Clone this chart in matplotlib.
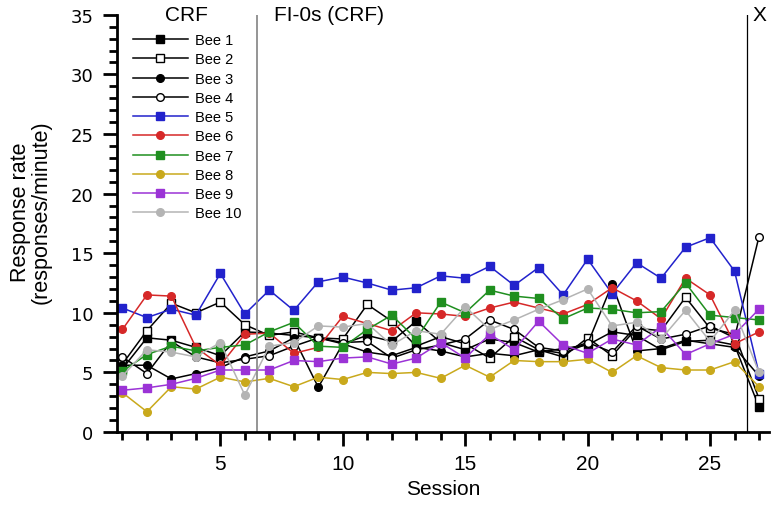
import matplotlib
matplotlib.use('Agg')
import matplotlib.pyplot as plt
from matplotlib.ticker import MultipleLocator

plt.rcParams['font.family'] = ['Liberation Sans', 'DejaVu Sans']

# sessions 1..27
sessions = list(range(1, 28))

bee1 = [5.3, 7.9, 7.7, 7.1, 6.4, 8.4, 8.3, 8.1, 7.9, 7.4, 8.1, 7.6, 9.3, 7.5, 6.9,
        7.8, 7.5, 6.7, 7.0, 7.3, 8.4, 8.1, 6.9, 7.6, 7.7, 7.3, 2.1]
bee2 = [5.7, 8.5, 10.8, 10.0, 10.9, 9.0, 8.1, 8.4, 7.9, 7.8, 10.7, 9.3, 7.2, 8.0, 7.4,
        6.2, 8.0, 6.9, 6.3, 7.9, 6.4, 8.7, 8.5, 11.3, 8.7, 8.2, 2.8]
bee3 = [5.6, 5.6, 4.45, 4.9, 5.4, 6.3, 6.8, 7.9, 3.75, 7.4, 6.7, 6.4, 7.1, 6.8, 6.3,
        6.6, 6.4, 6.9, 6.6, 7.4, 12.4, 6.8, 7.0, 7.7, 7.4, 7.1, 4.7]
bee4 = [6.3, 4.9, 7.6, 6.3, 5.8, 6.1, 6.4, 7.2, 7.9, 7.5, 7.6, 6.2, 6.9, 7.3, 7.8,
        9.4, 8.6, 7.1, 6.8, 7.5, 6.7, 8.9, 7.8, 8.2, 8.9, 7.9, 16.4]
bee5 = [10.4, 9.6, 10.3, 9.8, 13.3, 9.9, 11.9, 10.2, 12.6, 13.0, 12.5, 11.9, 12.1, 13.1, 12.9,
        13.9, 12.3, 13.8, 11.5, 14.5, 11.6, 14.2, 12.9, 15.5, 16.3, 13.5, 4.9]
bee6 = [8.6, 11.5, 11.4, 7.1, 5.6, 8.2, 8.3, 6.6, 7.1, 9.7, 9.1, 8.5, 10.0, 9.9, 9.7,
        10.4, 10.9, 10.4, 9.9, 10.7, 12.1, 11.0, 9.5, 12.9, 11.5, 7.4, 8.4]
bee7 = [5.1, 6.5, 7.2, 6.8, 7.1, 7.3, 8.4, 9.2, 7.2, 7.1, 8.6, 9.8, 7.8, 10.9, 10.0,
        11.9, 11.4, 11.2, 9.5, 10.4, 10.3, 10.0, 10.1, 12.5, 9.8, 9.6, 9.4]
bee8 = [3.3, 1.7, 3.8, 3.6, 4.6, 4.2, 4.5, 3.8, 4.6, 4.4, 5.0, 4.9, 5.0, 4.5, 5.6,
        4.6, 6.0, 5.9, 5.9, 6.1, 5.0, 6.4, 5.4, 5.2, 5.2, 5.9, 3.8]
bee9 = [3.5, 3.7, 4.0, 4.5, 5.2, 5.2, 5.2, 6.0, 5.9, 6.2, 6.3, 5.7, 6.2, 7.5, 6.2,
        8.2, 6.9, 9.3, 7.3, 6.6, 7.8, 7.3, 8.8, 6.5, 7.4, 8.2, 10.3]
bee10 = [4.7, 6.9, 6.7, 6.3, 7.5, 3.1, 7.2, 7.5, 8.9, 8.8, 9.1, 7.3, 8.5, 8.2, 10.5,
         8.6, 9.4, 10.3, 11.1, 12.0, 8.9, 9.2, 7.8, 10.2, 7.6, 10.2, 5.0]

series = [bee1, bee2, bee3, bee4, bee5, bee6, bee7, bee8, bee9, bee10]
labels = ['Bee 1', 'Bee 2', 'Bee 3', 'Bee 4', 'Bee 5', 'Bee 6', 'Bee 7', 'Bee 8', 'Bee 9', 'Bee 10']
colors = ['black', 'black', 'black', 'black', '#2222cc', '#d62828', '#1f8f1f', '#c9a91c', '#9b33d6', '#b4b4b4']
markers = ['s', 's', 'o', 'o', 's', 'o', 's', 'o', 's', 'o']
facecolors = ['black', 'white', 'black', 'white', '#2222cc', '#d62828', '#1f8f1f', '#c9a91c', '#9b33d6', '#b4b4b4']

phase_bounds = [6.5, 26.5]

fig = plt.figure(figsize=(7.75, 5.1), dpi=100)
ax = fig.add_axes([0.151, 0.151, 0.841, 0.818])

for y, lab, c, m, fc in zip(series, labels, colors, markers, facecolors):
    ax.plot(sessions, y, color=c, marker=m, markerfacecolor=fc, markeredgecolor=c,
            markersize=5.5, markeredgewidth=1.0, linewidth=1.1, label=lab)

ax.axvline(phase_bounds[0], color='#8c8c8c', linewidth=1.3)
ax.axvline(phase_bounds[1], color='black', linewidth=0.9)

ax.set_xlim(0.78, 27.4)
ax.set_ylim(0, 35)

ax.xaxis.set_major_locator(MultipleLocator(5))
ax.xaxis.set_minor_locator(MultipleLocator(1))
ax.yaxis.set_major_locator(MultipleLocator(5))
ax.yaxis.set_minor_locator(MultipleLocator(1))

for s in ['top', 'right']:
    ax.spines[s].set_visible(False)
for s in ['left', 'bottom']:
    ax.spines[s].set_linewidth(2.0)

ax.tick_params(which='major', direction='out', length=10, width=2.0)
ax.tick_params(which='minor', direction='out', length=6, width=2.0)
ax.tick_params(axis='x', which='major', labelsize=15, pad=6)
ax.tick_params(axis='y', which='major', labelsize=13, pad=7)
for t in ax.get_yticklabels():
    t.set_family('DejaVu Sans')

ax.set_xlabel('Session', fontsize=15, labelpad=4)
ax.set_ylabel('Response rate\n(responses/minute)', fontsize=15.5, linespacing=1.0)
ax.yaxis.set_label_coords(-0.1, 0.53)

ax.text(3.6, 35.0, 'CRF', fontsize=15, ha='center', va='center')
ax.text(7.2, 35.0, 'FI-0s (CRF)', fontsize=15, ha='left', va='center')
ax.text(27.0, 35.0, 'X', fontsize=15, ha='center', va='center')

ax.legend(loc='upper left', bbox_to_anchor=(0.015, 0.97), frameon=False, fontsize=10.5,
          handlelength=3.8, labelspacing=0.36, handletextpad=0.5, borderaxespad=0)

fig.savefig('out.png', dpi=100)
